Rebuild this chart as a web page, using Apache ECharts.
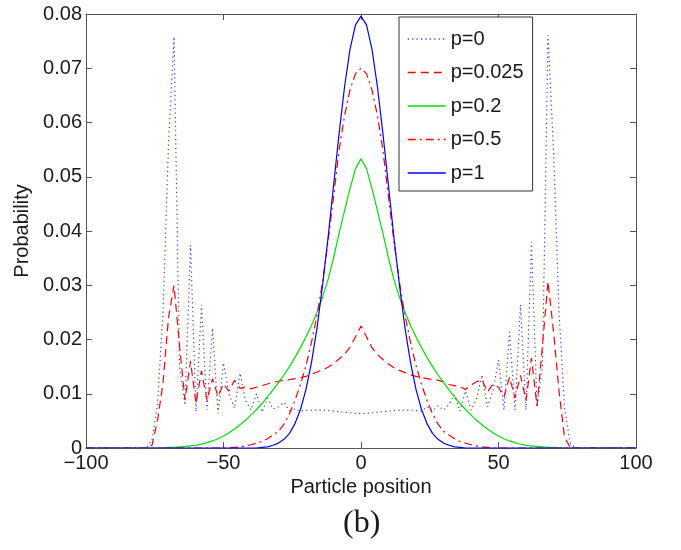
<!DOCTYPE html>
<html>
<head>
<meta charset="utf-8">
<script src="https://cdn.jsdelivr.net/npm/echarts@6/dist/echarts.min.js"></script>
<style>
  html, body { margin: 0; padding: 0; background: #ffffff; }
  #chart { width: 681px; height: 550px; }
</style>
</head>
<body>
<div id="chart"></div>
<script>
// Particle positions (even sites, -100 .. 100)
const positions = [
  -100,-98,-96,-94,-92,-90,-88,-86,-84,-82,
  -80,-78,-76,-74,-72,-70,-68,-66,-64,-62,
  -60,-58,-56,-54,-52,-50,-48,-46,-44,-42,
  -40,-38,-36,-34,-32,-30,-28,-26,-24,-22,
  -20,-18,-16,-14,-12,-10,-8,-6,-4,-2,
  0,2,4,6,8,10,12,14,16,18,
  20,22,24,26,28,30,32,34,36,38,
  40,42,44,46,48,50,52,54,56,58,
  60,62,64,66,68,70,72,74,76,78,
  80,82,84,86,88,90,92,94,96,98,
  100
];

const seriesNames = ['p=0', 'p=0.025', 'p=0.2', 'p=0.5', 'p=1'];

const probP0 = [
  0,0,0,0,0,0,0,0,0,0,
  0,0,0.0015,0.0080,0.0250,0.0560,0.0758,0.0150,0.0079,0.0374,
  0.0067,0.0264,0.0070,0.0221,0.0064,0.0157,0.0100,0.0073,0.0138,0.0088,
  0.0070,0.0100,0.0066,0.0092,0.0072,0.0076,0.0084,0.0069,0.0072,0.0068,
  0.0069,0.0070,0.0070,0.0070,0.0069,0.0068,0.0067,0.0066,0.0065,0.0064,
  0.0064,0.0064,0.0065,0.0066,0.0067,0.0068,0.0069,0.0070,0.0070,0.0070,
  0.0069,0.0068,0.0076,0.0068,0.0078,0.0070,0.0080,0.0098,0.0068,0.0105,
  0.0070,0.0090,0.0135,0.0076,0.0105,0.0162,0.0070,0.0214,0.0070,0.0264,
  0.0070,0.0380,0.0076,0.0150,0.0761,0.0550,0.0250,0.0075,0.0010,0,
  0,0,0,0,0,0,0,0,0,0,
  0
];

const probP0025 = [
  0,0,0,0,0,0,0,0,0,0,
  0,0,0.0005,0.0050,0.0120,0.0240,0.0300,0.0190,0.0088,0.0160,
  0.0082,0.0142,0.0088,0.0128,0.0095,0.0118,0.0105,0.0125,0.0110,0.0113,
  0.0109,0.0112,0.0115,0.0118,0.0121,0.0123,0.0125,0.0126,0.0128,0.0130,
  0.0132,0.0136,0.0140,0.0144,0.0149,0.0156,0.0164,0.0173,0.0186,0.0205,
  0.0225,0.0205,0.0185,0.0172,0.0163,0.0155,0.0148,0.0143,0.0139,0.0135,
  0.0132,0.0130,0.0128,0.0126,0.0125,0.0122,0.0117,0.0115,0.0113,0.0108,
  0.0116,0.0122,0.0126,0.0103,0.0118,0.0112,0.0094,0.0131,0.0092,0.0134,
  0.0088,0.0166,0.0077,0.0190,0.0307,0.0215,0.0105,0.0020,0.0002,0,
  0,0,0,0,0,0,0,0,0,0,
  0
];

const probP02 = [
  0,0,0,0,0,0,0,0,0,0,
  0,0,0,0,0,0.0001,0.0001,0.0002,0.0003,0.0004,
  0.0005,0.0007,0.0010,0.0013,0.0017,0.0022,0.0028,0.0035,0.0043,0.0051,
  0.0061,0.0071,0.0082,0.0094,0.0107,0.0121,0.0135,0.0150,0.0167,0.0185,
  0.0205,0.0226,0.0250,0.0278,0.0310,0.0350,0.0395,0.0437,0.0478,0.0515,
  0.0533,0.0515,0.0478,0.0437,0.0395,0.0350,0.0310,0.0278,0.0250,0.0226,
  0.0205,0.0185,0.0167,0.0150,0.0135,0.0121,0.0107,0.0094,0.0082,0.0071,
  0.0061,0.0051,0.0043,0.0035,0.0028,0.0022,0.0017,0.0013,0.0010,0.0007,
  0.0005,0.0004,0.0003,0.0002,0.0001,0.0001,0,0,0,0,
  0,0,0,0,0,0,0,0,0,0,
  0
];

const probP05 = [
  0,0,0,0,0,0,0,0,0,0,
  0,0,0,0,0,0,0,0,0,0,
  0,0,0,0,0,0,0,0.0001,0.0002,0.0004,
  0.0006,0.0009,0.0012,0.0017,0.0024,0.0031,0.0044,0.0063,0.0088,0.0117,
  0.0152,0.0195,0.0245,0.0305,0.0380,0.0462,0.0548,0.0612,0.0660,0.0690,
  0.0700,0.0690,0.0660,0.0612,0.0548,0.0462,0.0380,0.0305,0.0245,0.0195,
  0.0152,0.0117,0.0088,0.0063,0.0044,0.0031,0.0024,0.0017,0.0012,0.0009,
  0.0006,0.0004,0.0002,0.0001,0,0,0,0,0,0,
  0,0,0,0,0,0,0,0,0,0,
  0,0,0,0,0,0,0,0,0,0,
  0
];

const probP1 = [
  0,0,0,0,0,0,0,0,0,0,
  0,0,0,0,0,0,0,0,0,0,
  0,0,0,0,0,0,0,0,0,0,
  0,0,0.0001,0.0002,0.0005,0.0009,0.0016,0.0027,0.0045,0.0071,
  0.0108,0.0158,0.0221,0.0299,0.0387,0.0483,0.0578,0.0665,0.0735,0.0780,
  0.0796,0.0780,0.0735,0.0665,0.0578,0.0483,0.0387,0.0299,0.0221,0.0158,
  0.0108,0.0071,0.0045,0.0027,0.0016,0.0009,0.0005,0.0002,0.0001,0,
  0,0,0,0,0,0,0,0,0,0,
  0,0,0,0,0,0,0,0,0,0,
  0,0,0,0,0,0,0,0,0,0,
  0
];

const xTicks = { min: -100, max: 100, interval: 50 };
const yTicks = { min: 0, max: 0.08, interval: 0.01 };

const FONT = "'Liberation Sans', Arial, Helvetica, sans-serif";
const AXIS_COLOR = '#555555';
const TEXT_COLOR = '#1a1a1a';

const styles = [
  { color: '#3a3aff', type: [1.2, 3.2], width: 1.2 },
  { color: '#ff0000', type: [8, 5], width: 1.2 },
  { color: '#00e000', type: 'solid', width: 1.2 },
  { color: '#ff0000', type: [8, 4, 2, 4], width: 1.2 },
  { color: '#0000ff', type: 'solid', width: 1.2 }
];
const dataSets = [probP0, probP0025, probP02, probP05, probP1];

const series = seriesNames.map((name, k) => ({
  name: name,
  type: 'line',
  xAxisIndex: 0,
  yAxisIndex: 0,
  symbol: 'none',
  data: positions.map((x, i) => [x, dataSets[k][i]]),
  lineStyle: { color: styles[k].color, width: styles[k].width, type: styles[k].type },
  itemStyle: { color: styles[k].color },
  emphasis: { disabled: true }
}));

const legendData = seriesNames.map((name, k) => ({
  name: name,
  itemStyle: { color: 'rgba(0,0,0,0)', borderWidth: 0, opacity: 0 },
  lineStyle: { color: styles[k].color, width: 1.5, type: styles[k].type, opacity: 1 }
}));

function fmtX(v) { return v < 0 ? '\u2212' + Math.abs(v) : String(v); }
function fmtY(v) { return v === 0 ? '0' : v.toFixed(2); }

const axisLineStyle = { color: AXIS_COLOR, width: 1 };

const option = {
  animation: false,
  backgroundColor: '#ffffff',
  title: {
    text: '(b)',
    left: 343,
    top: 508,
    padding: 0,
    textStyle: { fontFamily: "'Liberation Serif', 'DejaVu Serif', serif", fontSize: 32, fontWeight: 'normal', color: TEXT_COLOR }
  },
  grid: { left: 86, right: 45, top: 14, bottom: 102 },
  legend: {
    orient: 'vertical',
    left: 399,
    top: 17,
    itemWidth: 38,
    itemHeight: 14,
    itemGap: 13.5,
    padding: [12, 9, 8, 8],
    borderColor: '#333333',
    borderWidth: 1,
    backgroundColor: '#ffffff',
    textStyle: { fontSize: 20, color: TEXT_COLOR, fontFamily: FONT },
    data: legendData
  },
  xAxis: [
    {
      type: 'value', position: 'bottom',
      min: xTicks.min, max: xTicks.max, interval: xTicks.interval,
      axisLine: { show: true, onZero: false, lineStyle: axisLineStyle },
      axisTick: { show: true, inside: true, length: 6, lineStyle: axisLineStyle },
      axisLabel: { formatter: fmtX, fontSize: 20, color: TEXT_COLOR, fontFamily: FONT, margin: 5 },
      splitLine: { show: false },
      name: 'Particle position', nameLocation: 'middle', nameGap: 29,
      nameTextStyle: { fontSize: 20, color: TEXT_COLOR, fontFamily: FONT }
    },
    {
      type: 'value', position: 'top',
      min: xTicks.min, max: xTicks.max, interval: xTicks.interval,
      axisLine: { show: true, onZero: false, lineStyle: axisLineStyle },
      axisTick: { show: true, inside: true, length: 6, lineStyle: axisLineStyle },
      axisLabel: { show: false },
      splitLine: { show: false }
    }
  ],
  yAxis: [
    {
      type: 'value', position: 'left',
      min: yTicks.min, max: yTicks.max, interval: yTicks.interval,
      axisLine: { show: true, onZero: false, lineStyle: axisLineStyle },
      axisTick: { show: true, inside: true, length: 6, lineStyle: axisLineStyle },
      axisLabel: { formatter: fmtY, fontSize: 20, color: TEXT_COLOR, fontFamily: FONT, margin: 4 },
      splitLine: { show: false },
      name: 'Probability', nameLocation: 'middle', nameGap: 49, nameRotate: 90,
      nameTextStyle: { fontSize: 20, color: TEXT_COLOR, fontFamily: FONT }
    },
    {
      type: 'value', position: 'right',
      min: yTicks.min, max: yTicks.max, interval: yTicks.interval,
      axisLine: { show: true, onZero: false, lineStyle: axisLineStyle },
      axisTick: { show: true, inside: true, length: 6, lineStyle: axisLineStyle },
      axisLabel: { show: false },
      splitLine: { show: false }
    }
  ],
  series: series
};

const chart = echarts.init(document.getElementById('chart'), null, { renderer: 'canvas' });
chart.setOption(option);
</script>
</body>
</html>
